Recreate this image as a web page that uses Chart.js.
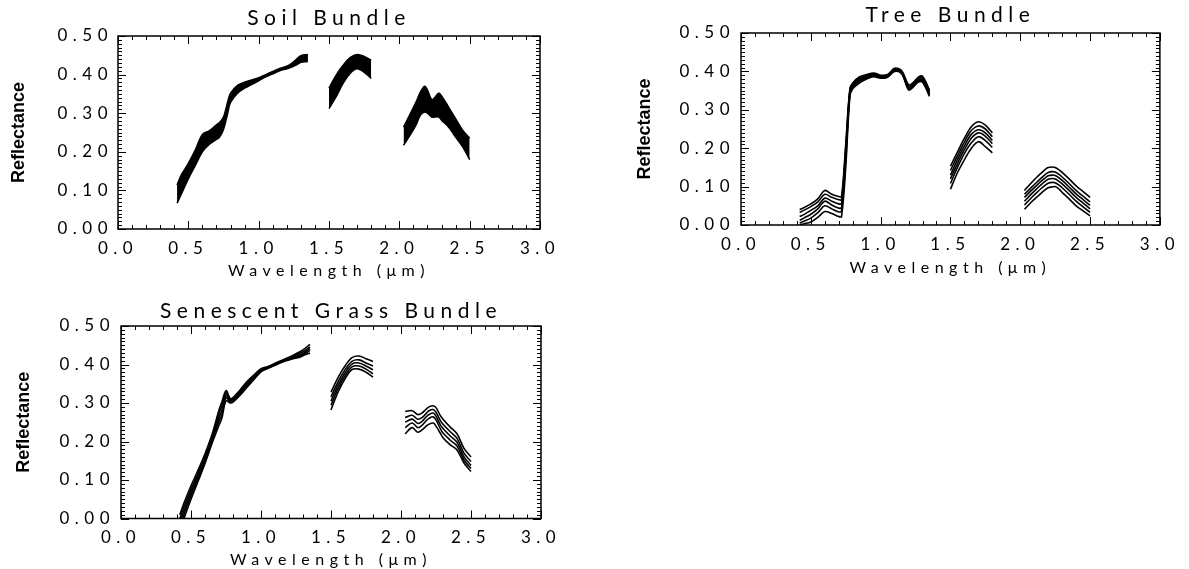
<!DOCTYPE html>
<html>
<head>
<meta charset="utf-8">
<script src="https://cdn.jsdelivr.net/npm/chart.js@4.4.1/dist/chart.umd.min.js"></script>
<style>
  html, body { margin: 0; padding: 0; background: #fff; }
  body { width: 1189px; height: 569px; position: relative; overflow: hidden; }
  canvas { position: absolute; }
</style>
</head>
<body>
<canvas id="soil" width="600" height="285" style="left:0;top:0"></canvas>
<canvas id="tree" width="569" height="285" style="left:620px;top:0"></canvas>
<canvas id="grass" width="600" height="279" style="left:0;top:290px"></canvas>
<script>
// shared wavelength grid (um); 1.42 and 1.90 are the water-band gaps
const wavelengths = [
  0.42, 0.45, 0.50, 0.55, 0.60, 0.65, 0.70, 0.72, 0.75, 0.78, 0.80, 0.85, 0.90, 0.95,
  1.00, 1.05, 1.10, 1.15, 1.20, 1.23, 1.27, 1.30, 1.35,
  1.42,
  1.50, 1.55, 1.60, 1.65, 1.70, 1.75, 1.80,
  1.90,
  2.03, 2.08, 2.12, 2.15, 2.18, 2.20, 2.23, 2.25, 2.28, 2.30, 2.35, 2.40, 2.45, 2.50
];
const xTicks = [0, 0.5, 1.0, 1.5, 2.0, 2.5, 3.0];
const yTicks = [0, 0.1, 0.2, 0.3, 0.4, 0.5];

// Soil bundle: upper and lower edge of the solid band
const soilUpper = [
  0.114, 0.140, 0.170, 0.205, 0.245, 0.255, 0.270, 0.275, 0.290, 0.330, 0.352, 0.372, 0.380, 0.386,
  0.392, 0.400, 0.408, 0.416, 0.422, 0.428, 0.440, 0.449, 0.452,
  null,
  0.365, 0.398, 0.424, 0.444, 0.452, 0.447, 0.437,
  null,
  0.264, 0.300, 0.330, 0.355, 0.370, 0.360, 0.335, 0.340, 0.352, 0.345, 0.316, 0.286, 0.256, 0.235
];
const soilLower = [
  0.067, 0.090, 0.130, 0.165, 0.200, 0.220, 0.232, 0.237, 0.258, 0.300, 0.328, 0.352, 0.365, 0.374,
  0.384, 0.394, 0.402, 0.410, 0.415, 0.419, 0.425, 0.432, 0.434,
  null,
  0.312, 0.342, 0.377, 0.403, 0.415, 0.406, 0.390,
  null,
  0.217, 0.245, 0.270, 0.295, 0.303, 0.300, 0.290, 0.290, 0.290, 0.282, 0.264, 0.238, 0.213, 0.180
];

// Tree bundle: six spectra, top to bottom
const tree1 = [
  0.040, 0.045, 0.055, 0.068, 0.090, 0.080, 0.074, 0.074, 0.210, 0.355, 0.370, 0.386, 0.392, 0.396,
  0.390, 0.392, 0.408, 0.402, 0.365, 0.370, 0.385, 0.387, 0.352,
  null,
  0.153, 0.190, 0.226, 0.256, 0.269, 0.260, 0.240,
  null,
  0.090, 0.110, 0.125, 0.135, 0.145, 0.150, 0.151, 0.150, 0.143, 0.137, 0.120, 0.102, 0.087, 0.072
];
const tree2 = [
  0.033, 0.038, 0.048, 0.060, 0.080, 0.072, 0.066, 0.066, 0.200, 0.352, 0.367, 0.383, 0.390, 0.394,
  0.388, 0.390, 0.406, 0.400, 0.362, 0.367, 0.382, 0.384, 0.348,
  null,
  0.142, 0.180, 0.216, 0.246, 0.258, 0.250, 0.230,
  null,
  0.080, 0.098, 0.112, 0.122, 0.132, 0.137, 0.139, 0.138, 0.131, 0.125, 0.108, 0.090, 0.075, 0.060
];
const tree3 = [
  0.022, 0.027, 0.038, 0.050, 0.070, 0.062, 0.055, 0.056, 0.190, 0.348, 0.364, 0.380, 0.387, 0.392,
  0.386, 0.389, 0.405, 0.399, 0.360, 0.365, 0.380, 0.381, 0.345,
  null,
  0.130, 0.170, 0.206, 0.236, 0.248, 0.240, 0.220,
  null,
  0.072, 0.090, 0.104, 0.114, 0.123, 0.128, 0.130, 0.129, 0.122, 0.116, 0.099, 0.081, 0.066, 0.051
];
const tree4 = [
  0.012, 0.018, 0.028, 0.042, 0.062, 0.052, 0.044, 0.045, 0.180, 0.345, 0.361, 0.377, 0.385, 0.390,
  0.385, 0.388, 0.403, 0.397, 0.357, 0.362, 0.377, 0.378, 0.342,
  null,
  0.120, 0.160, 0.196, 0.226, 0.240, 0.231, 0.212,
  null,
  0.062, 0.081, 0.095, 0.105, 0.114, 0.119, 0.121, 0.120, 0.113, 0.107, 0.090, 0.072, 0.057, 0.042
];
const tree5 = [
  0.005, 0.010, 0.018, 0.032, 0.050, 0.042, 0.034, 0.036, 0.170, 0.342, 0.358, 0.374, 0.383, 0.388,
  0.384, 0.386, 0.402, 0.396, 0.355, 0.360, 0.375, 0.375, 0.338,
  null,
  0.108, 0.150, 0.186, 0.214, 0.230, 0.220, 0.202,
  null,
  0.052, 0.071, 0.085, 0.095, 0.104, 0.109, 0.111, 0.110, 0.103, 0.097, 0.080, 0.062, 0.047, 0.033
];
const tree6 = [
  0.000, 0.003, 0.008, 0.020, 0.035, 0.030, 0.022, 0.022, 0.150, 0.335, 0.355, 0.370, 0.380, 0.386,
  0.382, 0.385, 0.400, 0.394, 0.352, 0.358, 0.372, 0.372, 0.335,
  null,
  0.093, 0.136, 0.170, 0.200, 0.217, 0.204, 0.188,
  null,
  0.041, 0.060, 0.073, 0.083, 0.092, 0.097, 0.099, 0.100, 0.093, 0.085, 0.068, 0.050, 0.037, 0.024
];

// Senescent grass bundle: five spectra, top to bottom
const grass1 = [
  0.010, 0.040, 0.085, 0.125, 0.168, 0.218, 0.282, 0.302, 0.332, 0.312, 0.314, 0.334, 0.356, 0.373,
  0.389, 0.395, 0.403, 0.411, 0.419, 0.424, 0.432, 0.438, 0.452,
  null,
  0.328, 0.366, 0.396, 0.418, 0.422, 0.415, 0.408,
  null,
  0.278, 0.280, 0.270, 0.274, 0.284, 0.290, 0.293, 0.288, 0.268, 0.258, 0.238, 0.220, 0.182, 0.160
];
const grass2 = [
  0.000, 0.030, 0.076, 0.117, 0.160, 0.210, 0.272, 0.292, 0.326, 0.309, 0.311, 0.330, 0.352, 0.370,
  0.386, 0.393, 0.401, 0.409, 0.417, 0.421, 0.428, 0.433, 0.446,
  null,
  0.316, 0.355, 0.386, 0.408, 0.412, 0.404, 0.396,
  null,
  0.262, 0.268, 0.258, 0.262, 0.273, 0.280, 0.283, 0.276, 0.255, 0.245, 0.226, 0.208, 0.170, 0.148
];
const grass3 = [
  -0.010, 0.020, 0.068, 0.110, 0.154, 0.205, 0.262, 0.280, 0.320, 0.306, 0.308, 0.327, 0.348, 0.367,
  0.384, 0.392, 0.400, 0.408, 0.415, 0.419, 0.424, 0.429, 0.441,
  null,
  0.305, 0.346, 0.378, 0.401, 0.404, 0.396, 0.386,
  null,
  0.250, 0.258, 0.247, 0.252, 0.264, 0.270, 0.274, 0.266, 0.244, 0.234, 0.215, 0.198, 0.160, 0.138
];
const grass4 = [
  -0.020, 0.010, 0.060, 0.103, 0.148, 0.200, 0.252, 0.270, 0.314, 0.303, 0.305, 0.324, 0.345, 0.364,
  0.383, 0.391, 0.399, 0.407, 0.414, 0.417, 0.421, 0.426, 0.436,
  null,
  0.294, 0.337, 0.370, 0.394, 0.396, 0.388, 0.376,
  null,
  0.236, 0.248, 0.236, 0.242, 0.254, 0.260, 0.264, 0.256, 0.234, 0.222, 0.204, 0.188, 0.152, 0.130
];
const grass5 = [
  -0.035, 0.000, 0.050, 0.096, 0.143, 0.195, 0.242, 0.260, 0.306, 0.300, 0.302, 0.320, 0.341, 0.361,
  0.381, 0.390, 0.398, 0.406, 0.412, 0.415, 0.418, 0.423, 0.430,
  null,
  0.282, 0.328, 0.363, 0.387, 0.388, 0.380, 0.367,
  null,
  0.220, 0.236, 0.224, 0.230, 0.240, 0.245, 0.248, 0.240, 0.222, 0.210, 0.192, 0.178, 0.144, 0.122
];

const textFont = "Lato, 'DejaVu Sans', sans-serif";
const LETTER_SPACING = '5.5px';

function points(values) {
    return wavelengths.map((w, i) => ({ x: w, y: values[i] }));
}

function line(values, extra) {
    return Object.assign({
        data: points(values),
        borderColor: '#000',
        borderWidth: 1.6,
        pointRadius: 0,
        tension: 0.35,
        spanGaps: false,
        fill: false
    }, extra || {});
}

// wide Hershey-like spacing for all text except the bold y title
const spacing = {
    id: 'spacing',
    beforeUpdate(chart) { chart.ctx.letterSpacing = LETTER_SPACING; },
    beforeDraw(chart) {
        chart.ctx.letterSpacing = LETTER_SPACING;
        const y = chart.scales.y;
        if (y && !y._plainTitle) {
            const draw = y.drawTitle;
            y.drawTitle = function () {
                const c = this.ctx, old = c.letterSpacing;
                c.letterSpacing = '0px';
                draw.call(this);
                c.letterSpacing = old;
            };
            y._plainTitle = true;
        }
    }
};

// IDL style box with inward major and minor ticks
const frame = {
    id: 'frame',
    afterDatasetsDraw(chart) {
        const { ctx, chartArea: a, scales: { x, y } } = chart;
        ctx.save();
        ctx.strokeStyle = '#000';
        ctx.lineWidth = 1.5;
        ctx.strokeRect(a.left, a.top, a.right - a.left, a.bottom - a.top);
        ctx.lineWidth = 1;
        ctx.beginPath();
        for (let i = 0; i <= 30; i++) {
            const px = Math.round(x.getPixelForValue(i / 10)) + 0.5;
            const len = i % 5 === 0 ? 8 : 4;
            ctx.moveTo(px, a.bottom); ctx.lineTo(px, a.bottom - len);
            ctx.moveTo(px, a.top); ctx.lineTo(px, a.top + len);
        }
        for (let j = 0; j <= 50; j++) {
            const py = Math.round(y.getPixelForValue(j / 100)) + 0.5;
            const len = j % 10 === 0 ? 8 : 4;
            ctx.moveTo(a.left, py); ctx.lineTo(a.left + len, py);
            ctx.moveTo(a.right, py); ctx.lineTo(a.right - len, py);
        }
        ctx.stroke();
        ctx.restore();
    }
};

function makePanel(id, title, datasets, box) {
    return new Chart(document.getElementById(id), {
        type: 'line',
        data: { datasets },
        options: {
            responsive: false,
            animation: false,
            devicePixelRatio: 1,
            layout: { padding: { left: 0, top: 0, right: box.padRight, bottom: box.padBottom } },
            plugins: {
                legend: { display: false },
                tooltip: { enabled: false },
                title: {
                    display: true, text: title, fullSize: false, color: '#000',
                    font: { family: textFont, size: 21, weight: 400 },
                    padding: { top: box.titleTop, bottom: box.titleBottom }
                }
            },
            scales: {
                x: {
                    type: 'linear', min: 0, max: 3,
                    grid: { display: false, drawTicks: false },
                    border: { display: false },
                    afterBuildTicks: s => { s.ticks = xTicks.map(v => ({ value: v })); },
                    ticks: {
                        padding: 9, color: '#000', maxRotation: 0, autoSkip: false,
                        font: { family: textFont, size: 17, weight: 400 },
                        callback: v => v.toFixed(1)
                    },
                    title: {
                        display: true, text: 'Wavelength (\u03bcm)', color: '#000',
                        font: { family: textFont, size: 16, weight: 400 },
                        padding: { top: 0, bottom: box.xTitleBottom }
                    },
                    afterFit: s => { s.height = box.xHeight; }
                },
                y: {
                    type: 'linear', min: 0, max: 0.5,
                    grid: { display: false, drawTicks: false },
                    border: { display: false },
                    afterBuildTicks: s => { s.ticks = yTicks.map(v => ({ value: v })); },
                    ticks: {
                        padding: box.yTickPad, color: '#000',
                        font: { family: textFont, size: 17, weight: 400 },
                        callback: v => v.toFixed(2)
                    },
                    title: {
                        display: true, text: 'Reflectance', color: '#000',
                        font: { family: "'Liberation Sans', Arial, sans-serif", size: 18, weight: 'bold' },
                        padding: { top: box.yTitleLeft, bottom: 0 }
                    },
                    afterFit: s => { s.width = box.yWidth; }
                }
            }
        },
        plugins: [spacing, frame]
    });
}

makePanel('soil', 'Soil Bundle', [
    line(soilLower, { borderWidth: 1.5 }),
    line(soilUpper, { borderWidth: 1.5, fill: '-1', backgroundColor: '#000' })
], { padRight: 60, padBottom: 2, titleTop: 6, titleBottom: 4.8, xHeight: 54, xTitleBottom: 2.4,
     yWidth: 118, yTickPad: 5, yTitleLeft: 8 });

makePanel('tree', 'Tree Bundle',
    [tree1, tree2, tree3, tree4, tree5, tree6].map(v => line(v)),
    { padRight: 26, padBottom: 4, titleTop: 2.4, titleBottom: 5.4, xHeight: 56, xTitleBottom: 3.4,
      yWidth: 121, yTickPad: 6, yTitleLeft: 14 });

makePanel('grass', 'Senescent Grass Bundle',
    [grass1, grass2, grass3, grass4, grass5].map(v => line(v)),
    { padRight: 59, padBottom: 0, titleTop: 8.4, titleBottom: 2.4, xHeight: 50.5, xTitleBottom: 0,
      yWidth: 121, yTickPad: 6, yTitleLeft: 13 });
</script>
</body>
</html>
